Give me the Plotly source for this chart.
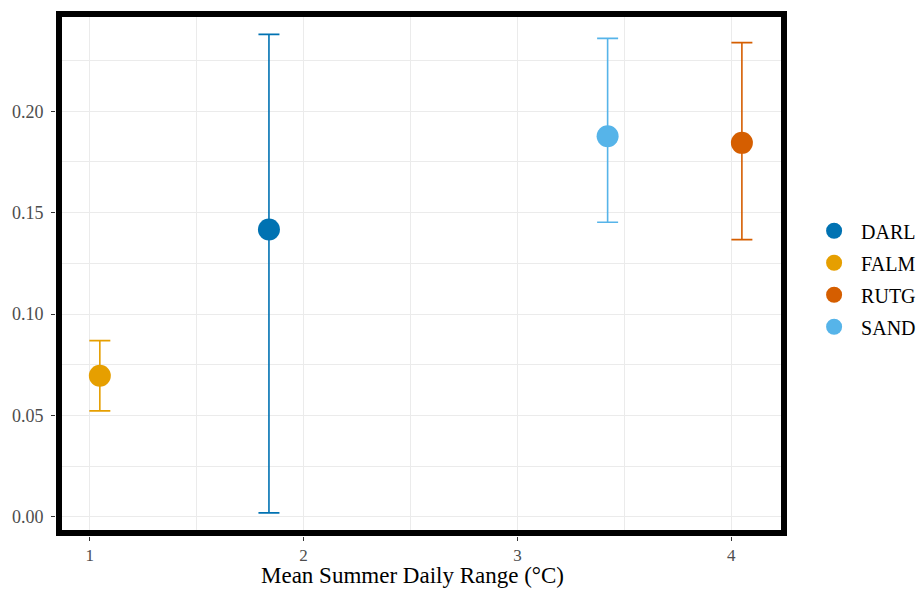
import plotly.graph_objects as go

sites = ["DARL", "FALM", "RUTG", "SAND"]
colors = ["#0072B2", "#E69F00", "#D55E00", "#56B4E9"]
x_range_c = [1.838, 1.047, 4.050, 3.422]
mean_val = [0.1417, 0.0696, 0.1844, 0.1877]
upper_val = [0.2379, 0.0869, 0.2338, 0.2359]
lower_val = [0.0020, 0.0523, 0.1367, 0.1453]

x_ticks = [1, 2, 3, 4]
y_ticks = [0.00, 0.05, 0.10, 0.15, 0.20]
y_tick_text = ["0.00", "0.05", "0.10", "0.15", "0.20"]
x_title = "Mean Summer Daily Range (°C)"

FONT = "Liberation Serif, Times New Roman, serif"

fig = go.Figure()
for s, c, x, m, u, l in zip(sites, colors, x_range_c, mean_val, upper_val, lower_val):
    fig.add_trace(go.Scatter(
        x=[x], y=[m], mode="markers", name=s, legendgroup=s,
        marker=dict(color=c, size=22, line=dict(width=0)),
        error_y=dict(type="data", symmetric=False, array=[u - m], arrayminus=[m - l],
                     color=c, thickness=1.6, width=10.5),
    ))

W, H = 922, 590
ML, MT, MR, MB = 56, 11, 135, 54
pw, ph = W - ML - MR, H - MT - MB
grid = "#EBEBEB"
fig.update_layout(
    width=W, height=H,
    margin=dict(l=ML, r=MR, t=MT, b=MB, autoexpand=False),
    paper_bgcolor="white", plot_bgcolor="white",
    font=dict(family=FONT, color="#000000"),
    showlegend=True,
    legend=dict(x=1.0275, xanchor="left", xref="paper", y=0.49, yanchor="middle",
                font=dict(size=20, family=FONT, color="#000000"),
                itemsizing="trace", itemwidth=44, tracegroupgap=3,
                bgcolor="rgba(0,0,0,0)"),
    xaxis=dict(
        range=[0.842, 4.261], tickvals=x_ticks, ticktext=[str(v) for v in x_ticks],
        showgrid=True, gridcolor=grid, gridwidth=1.4,
        minor=dict(dtick=0.5, tick0=0.5, showgrid=True, gridcolor=grid, gridwidth=0.8, ticklen=0),
        ticks="outside", ticklen=4, tickcolor="#333333", tickwidth=1.1,
        tickfont=dict(size=17, color="#4D4D4D", family=FONT),
        zeroline=False, showline=False, automargin=False,
    ),
    yaxis=dict(
        range=[-0.0094, 0.2494], tickvals=y_ticks, ticktext=y_tick_text,
        showgrid=True, gridcolor=grid, gridwidth=1.4,
        minor=dict(dtick=0.025, tick0=0.025, showgrid=True, gridcolor=grid, gridwidth=0.8, ticklen=0),
        ticks="outside", ticklen=4, tickcolor="#333333", tickwidth=1.1,
        tickfont=dict(size=18, color="#4D4D4D", family=FONT), ticklabelstandoff=4,
        zeroline=False, showline=False, automargin=False,
    ),
)

fig.add_annotation(text=x_title, xref="paper", yref="paper", x=0.488, y=-39 / ph,
                   xanchor="center", yanchor="middle", showarrow=False,
                   font=dict(size=23, color="#000000", family=FONT))

fig.add_shape(type="rect", xref="paper", yref="paper",
              x0=3 / pw, x1=1 - 3 / pw, y0=3 / ph, y1=1 - 3 / ph,
              line=dict(color="black", width=6), fillcolor="rgba(0,0,0,0)", layer="above")

fig.write_html("out.html", config={"displayModeBar": False},
               post_script="document.body.style.margin='0px';")
